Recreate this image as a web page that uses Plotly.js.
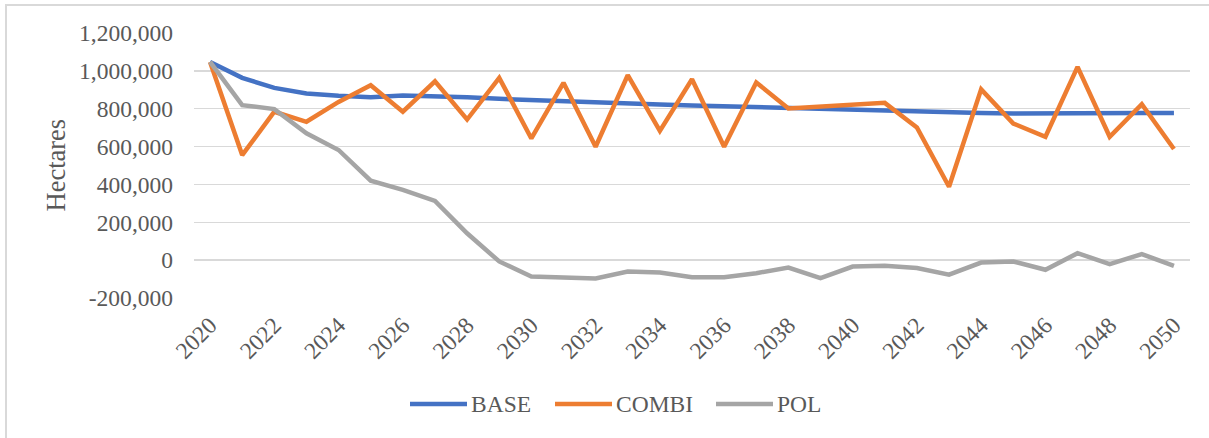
<!DOCTYPE html>
<html>
<head>
<meta charset="utf-8">
<script src="https://cdn.plot.ly/plotly-3.0.1.min.js"></script>
<style>
  html, body { margin: 0; padding: 0; background: #ffffff; overflow: hidden; }
  #frame { position: absolute; left: 5px; top: 4px; width: 1400px; height: 600px;
           border-left: 2px solid #d9d9d9; border-top: 2px solid #d9d9d9; z-index: 0; }
  #chart { position: absolute; left: 0; top: 0; width: 1209px; height: 438px; z-index: 1; }
</style>
</head>
<body>
<div id="frame"></div>
<div id="chart"></div>
<script>
const years = [2020,2021,2022,2023,2024,2025,2026,2027,2028,2029,2030,2031,2032,2033,2034,2035,2036,2037,2038,2039,2040,2041,2042,2043,2044,2045,2046,2047,2048,2049,2050];

const baseValues = [1047000,963000,910000,880000,868000,860000,870000,866000,860000,852000,845000,840000,833000,828000,822000,817000,812000,807000,802000,797000,792000,789000,785000,781000,778000,775000,777000,778000,778000,778000,778000];

const combiValues = [1047000,555000,784000,731000,836000,924000,784000,945000,743000,963000,643000,937000,599000,977000,683000,956000,599000,939000,801000,810000,819000,831000,701000,388000,902000,722000,652000,1021000,652000,824000,587000];

const polValues = [1047000,819000,798000,670000,582000,420000,371000,313000,142000,-7000,-86000,-90000,-97000,-60000,-65000,-90000,-90000,-69000,-39000,-95000,-34000,-30000,-42000,-77000,-13000,-7000,-51000,37000,-21000,32000,-30000];

const seriesNames = ["BASE", "COMBI", "POL"];
const seriesColors = ["#4472C4", "#ED7D31", "#A5A5A5"];

const yTickVals = [-200000,0,200000,400000,600000,800000,1000000,1200000];
const yTickText = ["-200,000","0","200,000","400,000","600,000","800,000","1,000,000","1,200,000"];
const xTickVals = [2020,2022,2024,2026,2028,2030,2032,2034,2036,2038,2040,2042,2044,2046,2048,2050];

const FONT = "'Liberation Serif', 'Times New Roman', serif";
const TXT = "#595959";
const FS = 23.5;

const seriesValues = [baseValues, combiValues, polValues];
const traces = seriesNames.map((n, i) => ({
  x: years, y: seriesValues[i], name: n, type: "scatter", mode: "lines",
  line: {color: seriesColors[i], width: 4.5}, showlegend: false
}));

// plot area in pixels (for legend placement outside the plot)
const PL = 194, PR = 1190, PT = 33, PB = 298;
const px = v => (v - PL) / (PR - PL);
const py = v => (PB - v) / (PB - PT);

// custom legend (long line keys like the original)
const legendLineStart = [410, 555, 716];
const keyLen = 57, legendY = 404;
const legendShapes = seriesNames.map((n, i) => ({
  type: "line", xref: "paper", yref: "paper",
  x0: px(legendLineStart[i]), x1: px(legendLineStart[i] + keyLen),
  y0: py(legendY), y1: py(legendY),
  line: {color: seriesColors[i], width: 4.5}
}));
const legendText = seriesNames.map((n, i) => ({
  text: n, xref: "paper", yref: "paper",
  x: px(legendLineStart[i] + keyLen + 2), y: py(legendY),
  xanchor: "left", yanchor: "middle", showarrow: false,
  font: {family: FONT, size: FS, color: TXT}
}));

const layout = {
  width: 1209, height: 438,
  margin: {l: PL, r: 1209 - PR, t: PT, b: 438 - PB, pad: 0},
  paper_bgcolor: "rgba(0,0,0,0)",
  plot_bgcolor: "rgba(0,0,0,0)",
  font: {family: FONT, size: FS, color: TXT},
  showlegend: false,
  xaxis: {
    range: [2019.5, 2050.5], tickmode: "array", tickvals: xTickVals,
    tickangle: -45, showgrid: false, zeroline: false, showline: false,
    ticks: "", ticklabelstandoff: 8, tickfont: {family: FONT, size: FS, color: TXT}, fixedrange: true
  },
  yaxis: {
    range: [-200000, 1200000], tickmode: "array", tickvals: yTickVals, ticktext: yTickText,
    showgrid: true, gridcolor: "#d9d9d9", gridwidth: 1.5, zeroline: false, showline: false,
    ticks: "", ticklabelstandoff: 20, tickfont: {family: FONT, size: FS, color: TXT}, fixedrange: true
  },
  shapes: legendShapes,
  annotations: [{
    text: "Hectares", xref: "paper", yref: "paper", x: px(55), y: 0.5,
    xanchor: "center", yanchor: "middle", textangle: -90, showarrow: false,
    font: {family: FONT, size: 26.5, color: TXT}
  }].concat(legendText)
};

Plotly.newPlot("chart", traces, layout, {displayModeBar: false, staticPlot: true});
</script>
</body>
</html>
